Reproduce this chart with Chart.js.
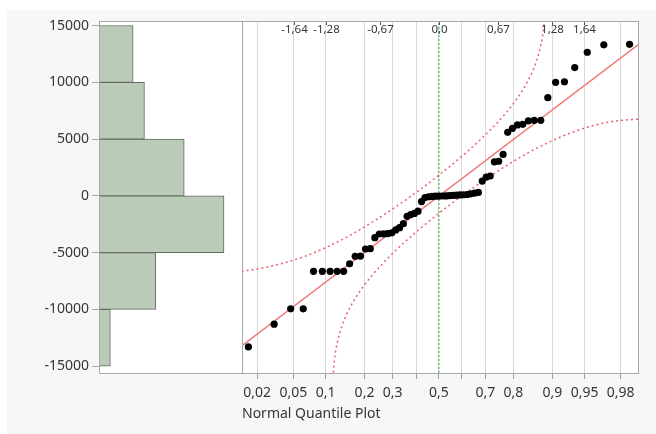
<!DOCTYPE html>
<html>
<head>
<meta charset="utf-8">
<script src="https://cdn.jsdelivr.net/npm/chart.js@4.4.1/dist/chart.umd.min.js"></script>
<style>
  html, body { margin: 0; padding: 0; background: #fff; }
  #frame { position: absolute; left: 7px; top: 10px; width: 649px; height: 424px; background: #f7f7f7; }
  #hist { position: absolute; left: 39px; top: 0; width: 213px; height: 434px; }
  #nqp { position: absolute; left: 232px; top: 0; width: 424px; height: 434px; }
</style>
</head>
<body>
<div id="frame"></div>
<canvas id="hist" width="213" height="434"></canvas>
<canvas id="nqp" width="424" height="434"></canvas>
<script>
"use strict";

var values = [-13300, -11300, -9950, -9950, -6650, -6650, -6650, -6650, -6650, -5980,
  -5320, -5300, -4680, -4650, -3680, -3360, -3350, -3330, -3250, -3000,
  -2800, -2450, -1800, -1650, -1550, -1350, -500, -150, -80, -50,
  -30, -20, -10, -5, 20, 40, 60, 80, 100, 120,
  180, 250, 300, 1300, 1650, 1750, 3000, 3050, 3650, 5600,
  5950, 6250, 6300, 6600, 6650, 6650, 8650, 10000, 10050, 11300,
  12650, 13300, 13350];

// histogram
var binCenters = [-12500, -7500, -2500, 2500, 7500, 12500];
var binCounts = [2, 10, 22, 15, 8, 6];

// y axis
var yTicks = [-15000, -10000, -5000, 0, 5000, 10000, 15000];

// bottom axis: probabilities and their normal quantiles
var probTicks = [0.02, 0.05, 0.1, 0.2, 0.3, 0.4, 0.5, 0.6, 0.7, 0.8, 0.9, 0.95, 0.98];
var probLabels = ['0,02', '0,05', '0,1', '0,2', '0,3', '', '0,5', '', '0,7', '0,8', '0,9', '0,95', '0,98'];

// top axis: normal quantiles
var zTicks = [-1.64, -1.28, -0.67, 0.0, 0.67, 1.28, 1.64];
var zLabels = ['-1,64', '-1,28', '-0,67', '0,0', '0,67', '1,28', '1,64'];

// fitted normal line (end points)
var fitZ = [-2.226, 2.249];
var fitY = [-13200, 13300];

// confidence bands
var upperZ = [-2.23, -2.0, -1.75, -1.5, -1.25, -1.0, -0.75, -0.5, -0.25, 0, 0.25, 0.5, 0.75, 0.9, 1.0, 1.05, 1.1, 1.15, 1.175, 1.2];
var upperY = [-6640, -6360, -5910, -5280, -4450, -3460, -2300, -1030, 350, 1830, 3430, 5190, 7250, 8770, 10050, 10850, 11850, 13260, 14360, 16300];
var lowerZ = [-1.2, -1.175, -1.15, -1.1, -1.05, -1.0, -0.9, -0.75, -0.5, -0.25, 0, 0.25, 0.5, 0.75, 1.0, 1.25, 1.5, 1.75, 2.0, 2.25];
var lowerY = [-16000, -14060, -12960, -11550, -10550, -9750, -8470, -6950, -4890, -3130, -1530, -50, 1330, 2600, 3760, 4750, 5580, 6210, 6600, 6750];

var yMin = -15600, yMax = 15400;
var zMin = -2.226, zMax = 2.249;

var font = { family: "'Noto Sans', sans-serif", size: 14 };
var textColor = '#363636';
var frameColor = '#a8a8a8';

// inverse standard normal (Acklam)
function qnorm(p) {
  var a = [-39.69683028665376, 220.9460984245205, -275.9285104469687, 138.3577518672690, -30.66479806614716, 2.506628277459239];
  var b = [-54.47609879822406, 161.5858368580409, -155.6989798598866, 66.80131188771972, -13.28068155288572];
  var c = [-0.007784894002430293, -0.3223964580411365, -2.400758277161838, -2.549732539343734, 4.374664141464968, 2.938163982698783];
  var d = [0.007784695709041462, 0.3224671290700398, 2.445134137142996, 3.754408661907416];
  var q, r;
  if (p < 0.02425) {
    q = Math.sqrt(-2 * Math.log(p));
    return (((((c[0] * q + c[1]) * q + c[2]) * q + c[3]) * q + c[4]) * q + c[5]) / ((((d[0] * q + d[1]) * q + d[2]) * q + d[3]) * q + 1);
  }
  if (p > 1 - 0.02425) return -qnorm(1 - p);
  q = p - 0.5; r = q * q;
  return (((((a[0] * r + a[1]) * r + a[2]) * r + a[3]) * r + a[4]) * r + a[5]) * q / (((((b[0] * r + b[1]) * r + b[2]) * r + b[3]) * r + b[4]) * r + 1);
}

function pairs(xs, ys) {
  return xs.map(function (x, i) { return { x: x, y: ys[i] }; });
}

var probZ = probTicks.map(qnorm);
var n = values.length;
var points = values.map(function (v, i) { return { x: qnorm((i + 1) / (n + 1)), y: v }; });

var plotFrame = {
  id: 'plotFrame',
  beforeDraw: function (chart) {
    var a = chart.chartArea, ctx = chart.ctx;
    ctx.save();
    ctx.fillStyle = '#fff';
    ctx.fillRect(a.left, a.top, a.right - a.left, a.bottom - a.top);
    ctx.restore();
  },
  afterDraw: function (chart) {
    var a = chart.chartArea, ctx = chart.ctx;
    ctx.save();
    ctx.strokeStyle = frameColor;
    ctx.lineWidth = 1;
    ctx.strokeRect(a.left + 0.5, a.top + 0.5, a.right - a.left, a.bottom - a.top);
    ctx.restore();
  }
};

var topAxis = {
  id: 'topAxis',
  afterDraw: function (chart) {
    var xs = chart.scales.x, a = chart.chartArea, ctx = chart.ctx;
    ctx.save();
    ctx.strokeStyle = '#555';
    ctx.fillStyle = textColor;
    ctx.font = "11.5px 'Noto Sans', sans-serif";
    ctx.textAlign = 'center';
    ctx.textBaseline = 'middle';
    zTicks.forEach(function (z, i) {
      var px = Math.round(xs.getPixelForValue(z)) + 0.5;
      ctx.beginPath();
      ctx.moveTo(px, a.top + 1);
      ctx.lineTo(px, a.top + 4);
      ctx.stroke();
      ctx.fillText(zLabels[i], px, a.top + 8.5);
    });
    ctx.restore();
  }
};

// histogram
new Chart(document.getElementById('hist'), {
  type: 'bar',
  data: {
    datasets: [{
      data: pairs(binCounts, binCenters),
      backgroundColor: '#bccab9',
      borderColor: '#5f6d5d',
      borderWidth: 1,
      borderSkipped: 'start',
      barPercentage: 1,
      categoryPercentage: 1
    }]
  },
  options: {
    indexAxis: 'y',
    responsive: false,
    animation: false,
    layout: { padding: { top: 21, bottom: 61, left: 0, right: 10 } },
    plugins: { legend: { display: false }, tooltip: { enabled: false } },
    scales: {
      x: { type: 'linear', min: 0, max: 25.17, display: false },
      y: {
        type: 'linear',
        offset: false,
        min: yMin,
        max: yMax,
        afterBuildTicks: function (s) { s.ticks = yTicks.map(function (v) { return { value: v }; }); },
        afterFit: function (s) { s.width = 60; },
        ticks: {
          color: textColor,
          font: font,
          padding: 3,
          callback: function (v) { return String(v); }
        },
        grid: { offset: false, drawOnChartArea: false, tickLength: 7, color: frameColor },
        border: { color: frameColor }
      }
    }
  },
  plugins: [plotFrame]
});

// normal quantile plot
new Chart(document.getElementById('nqp'), {
  type: 'scatter',
  data: {
    datasets: [{
      data: points,
      backgroundColor: '#000',
      borderWidth: 0,
      pointRadius: 3.6
    }, {
      type: 'line',
      data: pairs(fitZ, fitY),
      borderColor: '#f07878',
      borderWidth: 1.5,
      pointRadius: 0
    }, {
      type: 'line',
      data: pairs(upperZ, upperY),
      borderColor: '#ee5f6f',
      borderWidth: 1.5,
      borderDash: [2, 3],
      cubicInterpolationMode: 'monotone',
      pointRadius: 0
    }, {
      type: 'line',
      data: pairs(lowerZ, lowerY),
      borderColor: '#ee5f6f',
      borderWidth: 1.5,
      borderDash: [2, 3],
      cubicInterpolationMode: 'monotone',
      pointRadius: 0
    }, {
      type: 'line',
      data: pairs([0, 0], [yMin, yMax]),
      borderColor: '#2fae2f',
      borderWidth: 1,
      borderDash: [2, 2],
      pointRadius: 0
    }]
  },
  options: {
    responsive: false,
    animation: false,
    layout: { padding: { top: 21, bottom: 0, left: 10, right: 18 } },
    plugins: { legend: { display: false }, tooltip: { enabled: false } },
    scales: {
      x: {
        type: 'linear',
        min: zMin,
        max: zMax,
        afterBuildTicks: function (s) { s.ticks = probZ.map(function (v) { return { value: v }; }); },
        afterFit: function (s) { s.height = 61; },
        ticks: {
          color: textColor,
          font: font,
          padding: 6,
          autoSkip: false,
          maxRotation: 0,
          callback: function (v, i) { return probLabels[i]; }
        },
        grid: { color: '#d9d9d9', tickColor: '#9a9a9a', tickLength: 6 },
        border: { display: false },
        title: {
          display: true,
          text: 'Normal Quantile Plot',
          align: 'start',
          color: textColor,
          font: font,
          padding: { top: 0, bottom: 12 }
        }
      },
      y: { type: 'linear', min: yMin, max: yMax, display: false }
    }
  },
  plugins: [plotFrame, topAxis]
});
</script>
</body>
</html>
